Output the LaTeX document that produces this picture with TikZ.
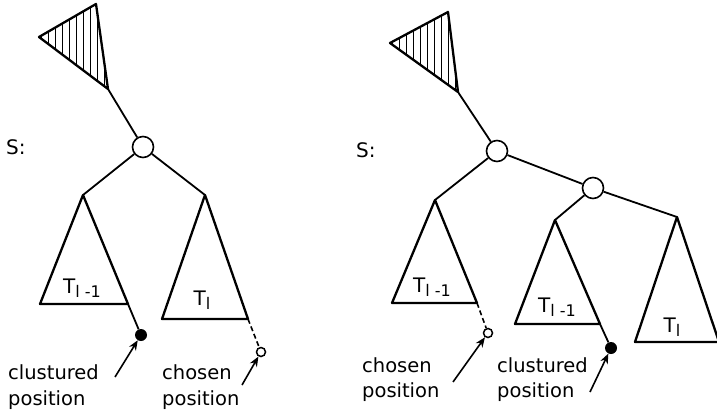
\documentclass[tikz,border=0pt]{standalone}
\usepackage{fontspec}
\setmainfont{DejaVu Sans}
\usetikzlibrary{arrows.meta}
\begin{document}
\begin{tikzpicture}[x=1pt,y=-1pt,
  edge/.style={line width=1.8pt},
  tri/.style={line width=2.3pt,line join=round},
  hatch/.style={line width=1pt},
  knot/.style={circle,draw,line width=1.6pt,fill=white,minimum size=21pt,inner sep=0pt},
  bdot/.style={circle,fill=black,minimum size=12pt,inner sep=0pt},
  odot/.style={circle,draw,line width=1.5pt,fill=white,minimum size=9pt,inner sep=0pt},
  lbl/.style={font=\fontsize{19.5}{22}\selectfont,inner sep=0pt,anchor=base west},
  slbl/.style={font=\fontsize{20}{24}\selectfont,inner sep=0pt,anchor=west},
  tlbl/.style={font=\fontsize{20}{22}\selectfont,inner sep=0pt},
  arr/.style={line width=1.6pt,-{Stealth[length=10pt,width=8pt]}},
  dsh/.style={line width=1.6pt,dash pattern=on 5pt off 3pt}
]
\useasboundingbox (0,0) rectangle (717,412);
\newcommand{\Tsub}[1]{T\raisebox{-0.4ex}{\fontsize{16}{18}\selectfont #1}}

% ---------- left diagram ----------
\coordinate (hA) at (39,37);
\coordinate (hB) at (96,4);
\coordinate (hC) at (108,89);
\begin{scope}
  \clip (hA)--(hB)--(hC)--cycle;
  \foreach \x in {41,48,...,111} \draw[hatch] (\x,0)--(\x,95);
\end{scope}
\draw[tri] (hA)--(hB)--(hC)--cycle;
\node[slbl] (s1) at (6,147) {S:};
\node[knot] (r1) at (143,147) {};
\draw[edge] (hC) -- (r1);

\coordinate (a1) at (83,195);
\coordinate (b1l) at (40,304);
\coordinate (b1r) at (128,304);
\coordinate (a2) at (205,195);
\coordinate (b2l) at (162,319);
\coordinate (b2r) at (248,319);
\draw[edge] (r1) -- (a1);
\draw[edge] (r1) -- (a2);
\draw[tri] (a1)--(b1l)--(b1r)--cycle;
\draw[tri] (a2)--(b2l)--(b2r)--cycle;
\node[tlbl] (t1) at (82,288) {\Tsub{l -1}};
\node[tlbl] (t2) at (202,300) {\Tsub{l}};
\node[bdot] (d1) at (141,335) {};
\draw[edge] (b1r) -- (d1);
\node[odot] (o1) at (261,352) {};
\draw[dsh] (b2r) -- (o1);

\node[lbl] (c1) at (8,379) {clustured};
\node[lbl] (p1) at (8,405) {position};
\node[lbl] (c2) at (162,379) {chosen};
\node[lbl] (p2) at (162,405) {position};
\coordinate (e1) at (115,377);
\coordinate (e2) at (242,385);
\draw[arr] (e1) -- (d1);
\draw[arr] (e2) -- (o1);

% ---------- right diagram ----------
\coordinate (hD) at (390,43);
\coordinate (hE) at (448,12);
\coordinate (hF) at (458,92);
\begin{scope}
  \clip (hD)--(hE)--(hF)--cycle;
  \foreach \x in {392,399,...,462} \draw[hatch] (\x,0)--(\x,95);
\end{scope}
\draw[tri] (hD)--(hE)--(hF)--cycle;
\node[slbl] (s2) at (356,150) {S:};
\node[knot] (r2) at (497,151) {};
\draw[edge] (hF) -- (r2);
\node[knot] (k2) at (593,188) {};
\draw[edge] (r2) -- (k2);

\coordinate (a3) at (435,200);
\coordinate (b3l) at (392,303);
\coordinate (b3r) at (477,303);
\coordinate (a4) at (555,220);
\coordinate (b4l) at (515,324);
\coordinate (b4r) at (600,324);
\coordinate (a5) at (677,217);
\coordinate (b5l) at (635,342);
\coordinate (b5r) at (719,342);
\draw[edge] (r2) -- (a3);
\draw[edge] (k2) -- (a4);
\draw[edge] (k2) -- (a5);
\draw[tri] (a3)--(b3l)--(b3r)--cycle;
\draw[tri] (a4)--(b4l)--(b4r)--cycle;
\draw[tri] (a5)--(b5l)--(b5r)--cycle;
\node[tlbl] (t3) at (432,287) {\Tsub{l -1}};
\node[tlbl] (t4) at (557,307) {\Tsub{l -1}};
\node[tlbl] (t5) at (672,327) {\Tsub{l}};
\node[odot] (o2) at (488,333) {};
\draw[dsh] (b3r) -- (o2);
\node[bdot] (d2) at (611,348) {};
\draw[edge] (b4r) -- (d2);

\node[lbl] (c3) at (362,372) {chosen};
\node[lbl] (p3) at (362,397) {position};
\node[lbl] (c4) at (497,372) {clustured};
\node[lbl] (p4) at (497,397) {position};
\coordinate (e3) at (453,382);
\coordinate (e4) at (590,392);
\draw[arr] (e3) -- (o2);
\draw[arr] (e4) -- (d2);
\end{tikzpicture}
\end{document}
